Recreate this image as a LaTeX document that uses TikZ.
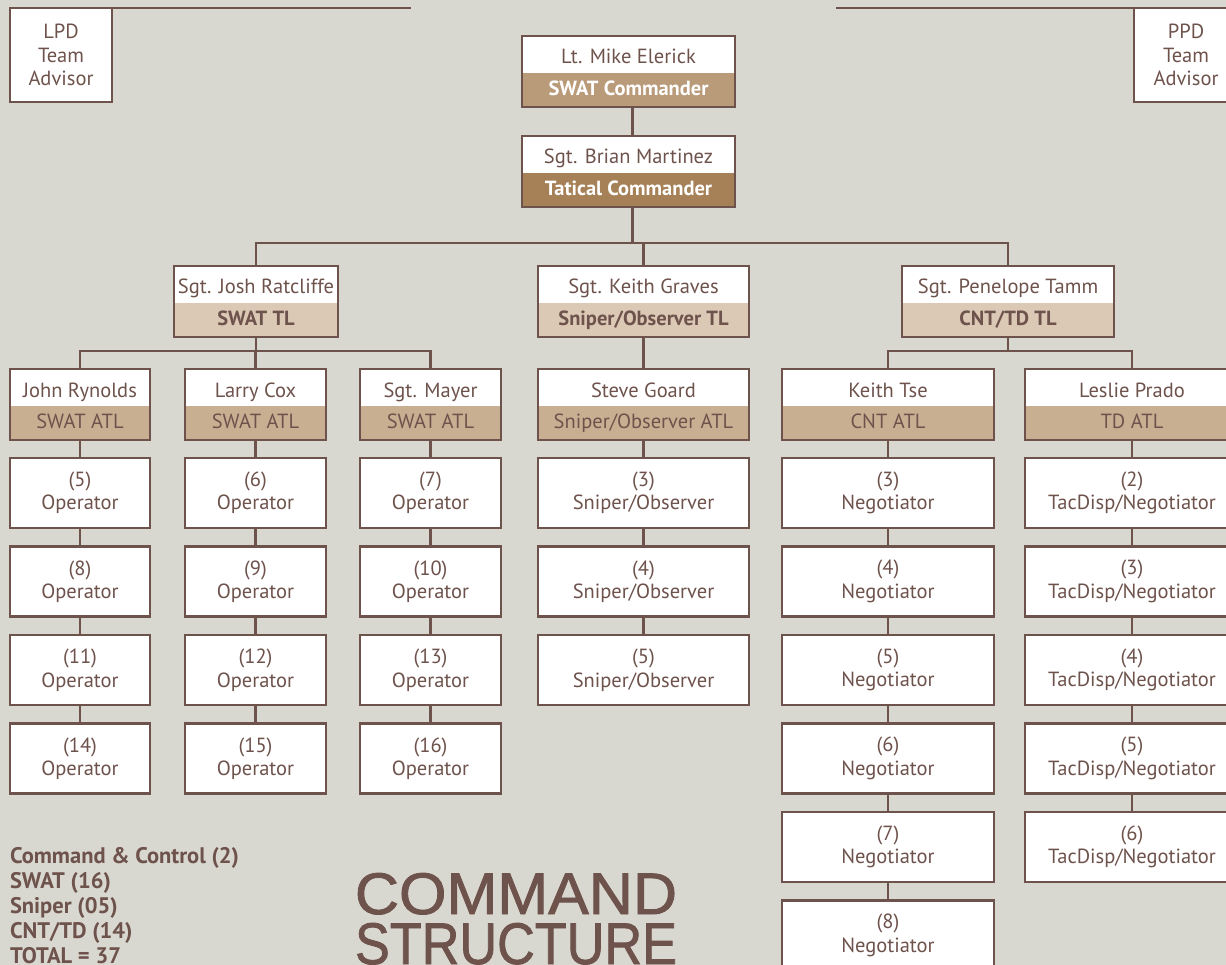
\documentclass[tikz,border=0pt]{standalone}
\usepackage{fontspec}
\usepackage{graphicx}
\setmainfont{PT Sans}
\newfontfamily\titlefont[FakeBold=1.4]{Liberation Sans}
\usetikzlibrary{positioning}
\definecolor{paper}{RGB}{217,216,208}
\definecolor{ink}{RGB}{110,82,76}
\definecolor{cmdtan}{RGB}{185,154,121}
\definecolor{tactan}{RGB}{166,128,86}
\definecolor{tltan}{RGB}{219,201,181}
\definecolor{atltan}{RGB}{201,175,146}
\newcommand\bodyfont{\fontsize{20.5}{23.5}\selectfont}
\newcommand\headword[1]{\resizebox{322pt}{41pt}{\titlefont #1}}
\tikzset{
  every node/.style={inner sep=0pt, outer sep=0pt, text=ink, font=\bodyfont},
  link/.style={draw=ink, line width=2.5pt},
  frame/.style={draw=ink, line width=2.5pt},
  who/.style={fill=white, minimum height=37pt, text height=19pt, text depth=0pt},
  role/.style={minimum height=34pt, text height=15pt, text depth=4.5pt},
  cmdrole/.style={role, fill=cmdtan, text=white, font=\bodyfont\bfseries},
  tacrole/.style={role, fill=tactan, text=white, font=\bodyfont\bfseries},
  tlrole/.style={role, fill=tltan, font=\bodyfont\bfseries},
  atlrole/.style={role, fill=atltan},
  post/.style={frame, fill=white, minimum height=70pt, align=center},
  tallytext/.style={font=\fontsize{22.5}{25}\selectfont\bfseries, anchor=base west},
}
% person on white, role on tan, one frame round both
\newcommand\rankbox[7]{%
  \node(#1)[who, minimum width=#4pt, anchor=north] at (#2,#3) {#5};
  \node(#1-b)[#6, minimum width=#4pt, below=0pt of #1] {#7};
  \draw[frame] (#1.north west) rectangle (#1-b.south east);}

\begin{document}
\begin{tikzpicture}[x=1pt, y=-1pt]
    \useasboundingbox (0,0) rectangle (1226,965);
    \fill[paper] (0,0) rectangle (1226,965);
    \clip (0,0) rectangle (1226,965);

    % advisors
    \node(lpd)[post, minimum width=102pt, minimum height=94pt] at (61,55) {LPD\\Team\\Advisor};
    \node(ppd)[post, minimum width=104pt, minimum height=94pt] at (1186,55) {PPD\\Team\\Advisor};
    \coordinate (lpd-end) at (411,8);
    \coordinate (ppd-end) at (836,8);
    \draw[link] (lpd.north east) -- (lpd-end);
    \draw[link] (ppd-end) -- (ppd.north west);

    % command and team leads
    \rankbox{cmd}{628.5}{36}{213}{Lt. Mike Elerick}{cmdrole}{SWAT Commander}
    \rankbox{tac}{628.5}{136}{213}{Sgt. Brian Martinez}{tacrole}{Tatical Commander}
    \rankbox{rat}{256}{266}{164}{Sgt. Josh Ratcliffe}{tlrole}{SWAT TL}
    \rankbox{grv}{643.5}{266}{211}{Sgt. Keith Graves}{tlrole}{Sniper/Observer TL}
    \rankbox{tam}{1008}{266}{212}{Sgt. Penelope Tamm}{tlrole}{CNT/TD TL}

    % assistant team leads
    \rankbox{ryn}{80}{369}{140}{John Rynolds}{atlrole}{SWAT ATL}
    \rankbox{cox}{255.5}{369}{141}{Larry Cox}{atlrole}{SWAT ATL}
    \rankbox{may}{430.5}{369}{141}{Sgt. Mayer}{atlrole}{SWAT ATL}
    \rankbox{goa}{643.5}{369}{211}{Steve Goard}{atlrole}{Sniper/Observer ATL}
    \rankbox{tse}{888}{369}{212}{Keith Tse}{atlrole}{CNT ATL}
    \rankbox{pra}{1132}{369}{214}{Leslie Prado}{atlrole}{TD ATL}

    % members
    \foreach \n [count=\k] in {5,8,11,14}
        \node(ryn-\k)[post, minimum width=140pt] at (80,{404.5+88.5*\k}) {(\n)\\Operator};
    \foreach \n [count=\k] in {6,9,12,15}
        \node(cox-\k)[post, minimum width=141pt] at (255.5,{404.5+88.5*\k}) {(\n)\\Operator};
    \foreach \n [count=\k] in {7,10,13,16}
        \node(may-\k)[post, minimum width=141pt] at (430.5,{404.5+88.5*\k}) {(\n)\\Operator};
    \foreach \n [count=\k] in {3,4,5}
        \node(goa-\k)[post, minimum width=211pt] at (643.5,{404.5+88.5*\k}) {(\n)\\Sniper/Observer};
    \foreach \n [count=\k] in {3,...,8}
        \node(tse-\k)[post, minimum width=212pt] at (888,{404.5+88.5*\k}) {(\n)\\Negotiator};
    \foreach \n [count=\k] in {2,...,6}
        \node(pra-\k)[post, minimum width=214pt] at (1132,{404.5+88.5*\k}) {(\n)\\TacDisp/Negotiator};

    % connectors
    \draw[link] ([xshift=4pt]cmd-b.south) -- ([xshift=4pt]tac.north);
    \coordinate (hub1) at (632.5,243);
    \coordinate (hub2) at (256,351);
    \coordinate (hub3) at (1008,351);
    \draw[link] (hub1 |- tac-b.south) -- (hub1);
    \draw[link] (rat.north) |- (hub1) -| (tam.north);
    \draw[link] (grv.north) -- (grv.north |- hub1);
    \draw[link] (rat-b.south) -- (hub2);
    \draw[link] (ryn.north) |- (hub2) -| (may.north);
    \draw[link] (cox.north) -- (cox.north |- hub2);
    \draw[link] (tam-b.south) -- (hub3);
    \draw[link] (tse.north) |- (hub3) -| (pra.north);
    \draw[link] (grv-b.south) -- (goa.north);
    \foreach \c/\m in {ryn/4,cox/4,may/4,goa/3,tse/6,pra/5} {
        \draw[link] (\c-b.south) -- (\c-1.north);
        \foreach \k in {2,...,\m} {
            \pgfmathtruncatemacro\j{\k-1}
            \draw[link] (\c-\j.south) -- (\c-\k.north);
        }
    }

    % tally and title
    \foreach \t [count=\k] in {Command \& Control (2), SWAT (16), Sniper (05), CNT/TD (14), TOTAL = 37}
        \node(tally-\k)[tallytext] at (10,{838+25*\k}) {\t};
    \node(title-a)[anchor=base] at (516,914) {\headword{COMMAND}};
    \node(title-b)[anchor=base] at (516,964) {\headword{STRUCTURE}};
\end{tikzpicture}
\end{document}
